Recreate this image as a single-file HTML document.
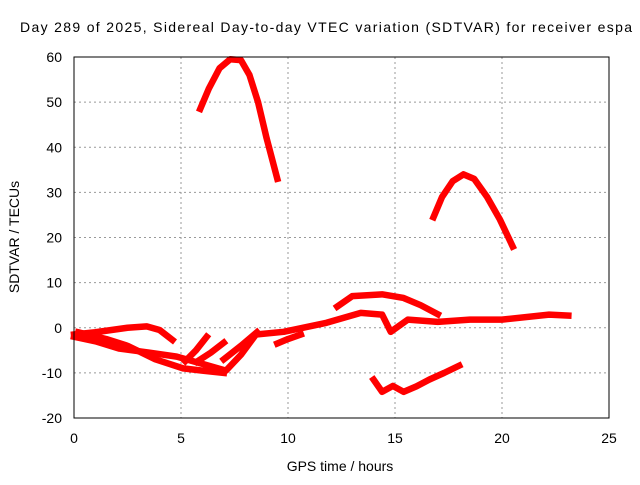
<!DOCTYPE html>
<html><head><meta charset="utf-8"><style>
body{margin:0;background:#fff}
svg text{font-family:"Liberation Sans",sans-serif;font-size:14px;fill:#000}
</style></head><body>
<svg id="chart" width="640" height="480" xmlns="http://www.w3.org/2000/svg">
<text x="20" y="32" textLength="612" lengthAdjust="spacing">Day 289 of 2025, Sidereal Day-to-day VTEC variation (SDTVAR) for receiver espa</text>
<g id="grid"></g>
<g id="axes"></g>
<g id="series"></g>
<rect x="74" y="57" width="535" height="361" fill="none" stroke="#000" stroke-width="1"/>
<text x="340" y="471" text-anchor="middle">GPS time / hours</text>
<text transform="translate(19,237) rotate(-90)" text-anchor="middle">SDTVAR / TECUs</text>
</svg>
<script>
const xTicks=[0,5,10,15,20,25];
const yTicks=[-20,-10,0,10,20,30,40,50,60];
const traceA=[[5.9,48.5],[6.3,53],[6.8,57.5],[7.3,59.5],[7.8,59.3],[8.2,56],[8.6,50],[9.0,42],[9.5,33]];
const traceB=[[16.8,24.5],[17.2,29],[17.7,32.5],[18.2,34],[18.7,33],[19.3,29],[19.9,24],[20.5,18]];
const traceC=[[14.0,-11.5],[14.4,-14.2],[14.9,-12.9],[15.4,-14.2],[16.0,-13],[16.6,-11.5],[17.3,-10],[18.0,-8.4]];
const traceD=[[12.3,4.7],[13.0,7.0],[14.4,7.4],[15.4,6.6],[16.2,5],[17.0,3]];
const traceE=[[0,-1.5],[1,-1],[2.5,0],[3.4,0.3],[4.0,-0.5],[4.6,-2.7]];
const traceF=[[0,-2],[1,-3],[2.1,-4.6],[3.5,-5.5],[4.8,-6.4],[6,-8],[7.1,-9.5],[7.8,-6],[8.5,-1.5],[9.8,-0.9],[11.8,1.1],[13.4,3.3],[14.4,2.9],[14.8,-0.9],[15.6,1.8],[17,1.3],[18.5,1.8],[20,1.8],[22.2,2.9],[23.1,2.7]];
const traceG=[[0.2,-1],[1.5,-2.5],[2.5,-4],[3.8,-7],[5.1,-9],[6,-9.5],[7.0,-10]];
const traceH1=[[5.2,-7.4],[5.7,-5],[6.2,-2]];
const traceH2=[[5.75,-7.5],[6.4,-5.5],[7.0,-3.3]];
const traceH3=[[7.0,-7],[7.8,-4],[8.55,-1]];
const traceH4=[[9.5,-3.5],[10,-2.5],[10.6,-1.5]];
const traces=[traceA,traceB,traceC,traceD,traceE,traceF,traceG,traceH1,traceH2,traceH3,traceH4];
const NS="http://www.w3.org/2000/svg";
const X=h=>74+h*535/25;
const Y=v=>418-(v+20)*361/80;
const grid=document.getElementById('grid'),axes=document.getElementById('axes'),ser=document.getElementById('series');
function mk(tag,at,parent){const e=document.createElementNS(NS,tag);for(const k in at)e.setAttribute(k,at[k]);parent.appendChild(e);return e;}
xTicks.forEach(t=>{
  if(t>0&&t<25){const g=mk('line',{x1:X(t),x2:X(t),y1:57,y2:418,stroke:'#999','stroke-dasharray':'2,3'},grid);
  
  }
  const l=mk('text',{x:X(t),y:443,'text-anchor':'middle'},axes);l.textContent=t;
  
  
});
yTicks.forEach(t=>{
  if(t>-20&&t<60){const g=mk('line',{x1:74,x2:609,y1:Y(t),y2:Y(t),stroke:'#999','stroke-dasharray':'2,3'},grid);
  
  }
  const l=mk('text',{x:62,y:Y(t)+5,'text-anchor':'end'},axes);l.textContent=t;
  
  
});
traces.forEach(tr=>{
  const p=mk('polyline',{points:tr.map(d=>X(d[0])+','+Y(d[1])).join(' '),fill:'none',stroke:'#f00','stroke-width':6.5,'stroke-linejoin':'round','stroke-linecap':'square'},ser);
  
  
});
</script>
</body></html>
